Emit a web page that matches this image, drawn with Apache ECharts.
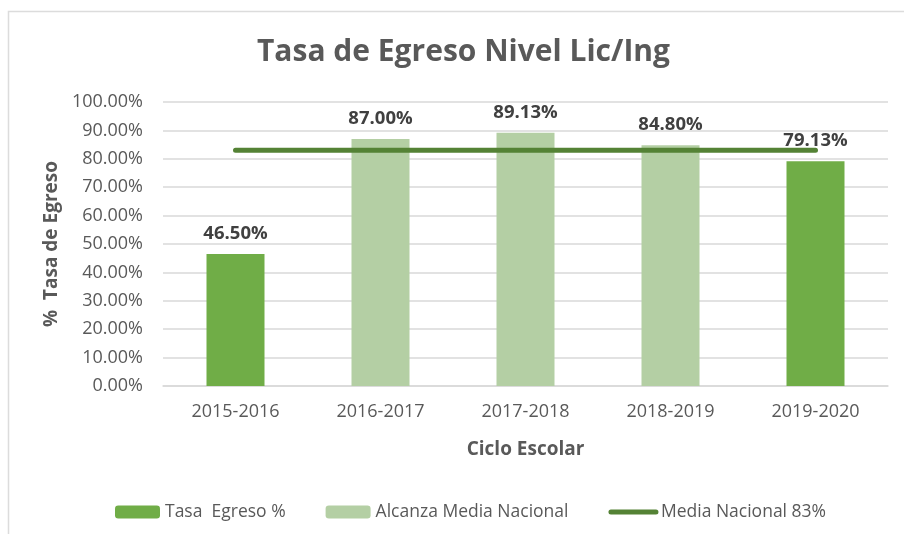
<!DOCTYPE html>
<html>
<head>
<meta charset="utf-8">
<script src="https://cdn.jsdelivr.net/npm/echarts@6/dist/echarts.min.js"></script>
<style>
  html, body { margin: 0; padding: 0; background: #fff; }
  #chart { width: 904px; height: 534px; }
</style>
</head>
<body>
<div id="chart"></div>
<script>
// data
var categories = ['2015-2016', '2016-2017', '2017-2018', '2018-2019', '2019-2020'];
var tasaEgreso = [46.5, '-', '-', '-', 79.13];
var alcanzaMedia = ['-', 87.0, 89.13, 84.8, '-'];
var mediaNacional = [83, 83, 83, 83, 83];

(function() {
  var ink = '#595959';
  var dark = '#404040';
  var green = '#70AD47';
  var light = '#B4CFA4';
  var lineGreen = '#548235';
  var font = 'Open Sans, Liberation Sans, sans-serif';

  var chart = echarts.init(document.getElementById('chart'), null, { renderer: 'canvas' });

  var label = {
    show: true,
    position: 'top',
    distance: 11,
    color: dark,
    fontFamily: font,
    fontWeight: 'bold',
    fontSize: 18.5,
    formatter: function(p) { return Number(p.value).toFixed(2) + '%'; }
  };

  chart.setOption({
    animation: false,
    backgroundColor: '#fff',
    graphic: [{
      type: 'rect',
      shape: { x: 8.5, y: 11.5, width: 1000, height: 1000 },
      style: { fill: 'none', stroke: '#dcdcdc', lineWidth: 1.5 },
      silent: true
    }],
    title: {
      text: 'Tasa de Egreso Nivel Lic/Ing',
      left: 252,
      top: 32,
      textStyle: { color: ink, fontFamily: font, fontWeight: 'bold', fontSize: 30 }
    },
    legend: {
      left: 110,
      top: 498,
      itemWidth: 45,
      itemHeight: 13,
      itemGap: 40,
      textStyle: { color: ink, fontFamily: font, fontSize: 17.5 },
      data: [
        'Tasa  Egreso %',
        'Alcanza Media Nacional',
        { name: 'Media Nacional 83%', itemStyle: { opacity: 0 }, lineStyle: { width: 5 } }
      ]
    },
    grid: { left: 163, right: 16, top: 102, bottom: 148 },
    xAxis: {
      type: 'category',
      data: categories,
      name: 'Ciclo Escolar',
      nameLocation: 'middle',
      nameGap: 54,
      nameTextStyle: { color: ink, fontFamily: font, fontWeight: 'bold', fontSize: 19 },
      axisTick: { show: false },
      axisLine: { lineStyle: { color: '#d9d9d9', width: 1.5 } },
      axisLabel: { color: ink, fontFamily: font, fontSize: 18, margin: 17 }
    },
    yAxis: {
      type: 'value',
      min: 0,
      max: 100,
      interval: 10,
      name: '%  Tasa de Egreso',
      nameLocation: 'middle',
      nameGap: 102,
      nameTextStyle: { color: ink, fontFamily: font, fontWeight: 'bold', fontSize: 19 },
      axisLine: { show: false },
      axisTick: { show: false },
      splitLine: { lineStyle: { color: '#d9d9d9', width: 1.5 } },
      axisLabel: {
        color: ink, fontFamily: font, fontSize: 18, margin: 20,
        formatter: function(v) { return v.toFixed(2) + '%'; }
      }
    },
    series: [{
      name: 'Tasa  Egreso %',
      type: 'bar',
      data: tasaEgreso,
      barWidth: 58,
      barGap: '-100%',
      itemStyle: { color: green },
      label: label
    }, {
      name: 'Alcanza Media Nacional',
      type: 'bar',
      data: alcanzaMedia,
      barWidth: 58,
      barGap: '-100%',
      itemStyle: { color: light },
      label: label
    }, {
      name: 'Media Nacional 83%',
      type: 'line',
      data: mediaNacional,
      symbol: 'none',
      z: 5,
      itemStyle: { color: lineGreen },
      lineStyle: { color: lineGreen, width: 5, cap: 'round' }
    }]
  });
  window.addEventListener('resize', function() { chart.resize(); });
})();
</script>
</body>
</html>
